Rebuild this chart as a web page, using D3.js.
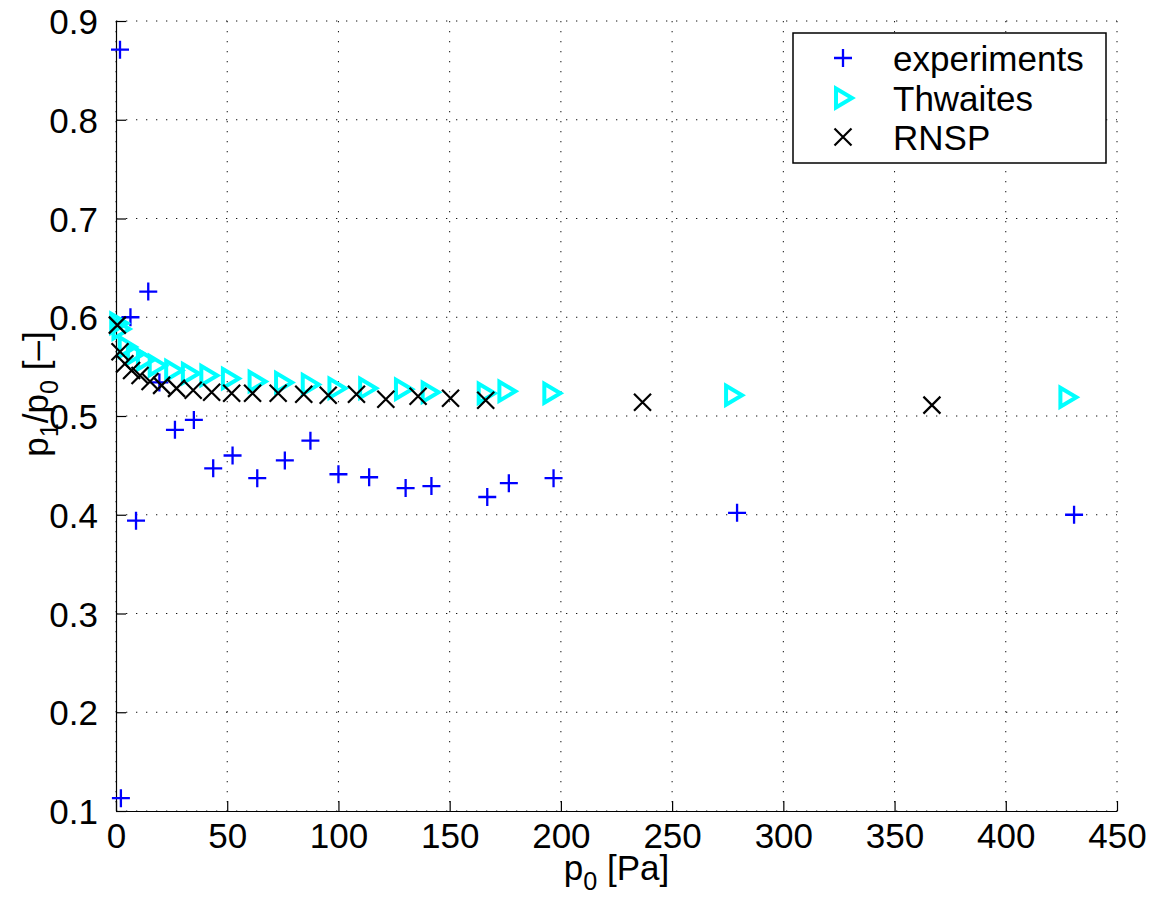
<!DOCTYPE html>
<html>
<head>
<meta charset="utf-8">
<script src="https://cdn.jsdelivr.net/npm/d3@7/dist/d3.min.js"></script>
<style>
  html, body { margin: 0; padding: 0; background: #fff; }
  svg { display: block; font-family: "Liberation Sans", Arial, Helvetica, sans-serif; }
</style>
</head>
<body>
<svg id="chart" width="1154" height="909"></svg>
<script>
// Pressure ratio p1/p0 against upstream pressure p0
const xTicks = [0, 50, 100, 150, 200, 250, 300, 350, 400, 450];
const yTicks = [0.1, 0.2, 0.3, 0.4, 0.5, 0.6, 0.7, 0.8, 0.9];

const expX = [1.8, 2.2, 6.5, 9, 14.5, 19.5, 26.5, 35, 43.7, 52.4, 63.5, 75.9, 87.4, 100, 113.8, 130.2, 141.8, 166.9, 176.6, 196.7, 279.2, 430.7];
const expY = [0.871, 0.113, 0.600, 0.394, 0.626, 0.534, 0.486, 0.496, 0.447, 0.460, 0.437, 0.455, 0.475, 0.441, 0.438, 0.427, 0.429, 0.418, 0.432, 0.437, 0.402, 0.400];

const thwX = [1, 2, 4.8, 8.5, 13, 18.3, 25.7, 33.2, 41.5, 51.2, 63.2, 75.1, 87.1, 99.1, 112.9, 129, 141, 166.2, 175.5, 195.7, 277.4, 427.7];
const thwY = [0.594, 0.588, 0.570, 0.563, 0.557, 0.551, 0.546, 0.543, 0.541, 0.538, 0.535, 0.534, 0.532, 0.528, 0.528, 0.527, 0.524, 0.523, 0.525, 0.523, 0.521, 0.519];

const rnspX = [0.6, 1.8, 4, 7, 10.8, 15.3, 20.5, 27.2, 34.7, 43, 52, 61.4, 72.9, 84.4, 95.4, 108.1, 121.3, 135.8, 150.4, 166.2, 236.7, 366.8];
const rnspY = [0.592, 0.565, 0.553, 0.546, 0.541, 0.535, 0.531, 0.528, 0.526, 0.524, 0.523, 0.523, 0.523, 0.522, 0.521, 0.522, 0.517, 0.520, 0.518, 0.516, 0.514, 0.511];

const seriesNames = ["experiments", "Thwaites", "RNSP"];

const svg = d3.select("#chart");
const plotLeft = 116, plotRight = 1117, plotTop = 21, plotBottom = 811;
const FS = 35;

const x = d3.scaleLinear().domain([0, 450]).range([plotLeft, plotRight]);
const y = d3.scaleLinear().domain([0.1, 0.9]).range([plotBottom, plotTop]);

// dotted grid
const grid = svg.append("g");
grid.selectAll("line.gx").data(xTicks).join("line")
  .attr("x1", d => x(d)).attr("x2", d => x(d))
  .attr("y1", plotTop).attr("y2", plotBottom)
  .attr("stroke", "#111").attr("stroke-width", 1)
  .attr("stroke-dasharray", "1.3,8.7");
grid.selectAll("line.gy").data(yTicks).join("line")
  .attr("x1", plotLeft).attr("x2", plotRight)
  .attr("y1", d => y(d)).attr("y2", d => y(d))
  .attr("stroke", "#111").attr("stroke-width", 1)
  .attr("stroke-dasharray", "1.3,8.7");

// axes (ticks point inward)
const xAxis = d3.axisBottom(x).tickValues(xTicks).tickSizeInner(-10).tickSizeOuter(0).tickPadding(12)
  .tickFormat(d3.format("d"));
const yAxis = d3.axisLeft(y).tickValues(yTicks).tickSizeInner(-10).tickSizeOuter(0).tickPadding(18)
  .tickFormat(d3.format(".1f"));

const gx = svg.append("g").attr("transform", `translate(0,${plotBottom})`).call(xAxis);
const gy = svg.append("g").attr("transform", `translate(${plotLeft},0)`).call(yAxis);
[gx, gy].forEach(g => {
  g.select(".domain").attr("stroke", "#000").attr("stroke-width", 1.2);
  g.selectAll(".tick line").attr("stroke", "#000").attr("stroke-width", 1.2);
  g.selectAll(".tick text").attr("fill", "#000").attr("font-size", FS)
    .attr("font-family", "'Liberation Sans', Arial, sans-serif");
});
gy.selectAll(".tick text").attr("dy", "0.36em");

// marker shapes
const plusPath = "M-9,0H9M0,-9V9";
const crossPath = "M-8.5,-8.5L8.5,8.5M-8.5,8.5L8.5,-8.5";
const triPath = "M-7,-9.5L-7,9.5L9,0Z";

const marks = svg.append("g");
marks.selectAll("path.exp").data(expX.map((v, i) => [v, expY[i]])).join("path")
  .attr("transform", d => `translate(${x(d[0])},${y(d[1])})`)
  .attr("d", plusPath).attr("fill", "none").attr("stroke", "#0000ff").attr("stroke-width", 2.3);
marks.selectAll("path.thw").data(thwX.map((v, i) => [v, thwY[i]])).join("path")
  .attr("transform", d => `translate(${x(d[0])},${y(d[1])})`)
  .attr("d", triPath).attr("fill", "none").attr("stroke", "#00ffff").attr("stroke-width", 4)
  .attr("stroke-linejoin", "miter");
marks.selectAll("path.rnsp").data(rnspX.map((v, i) => [v, rnspY[i]])).join("path")
  .attr("transform", d => `translate(${x(d[0])},${y(d[1])})`)
  .attr("d", crossPath).attr("fill", "none").attr("stroke", "#000").attr("stroke-width", 2.2);

// axis labels with subscripts
const xl = svg.append("text").attr("x", (plotLeft + plotRight) / 2).attr("y", 880)
  .attr("text-anchor", "middle").attr("font-size", FS).attr("fill", "#000");
xl.append("tspan").text("p");
xl.append("tspan").attr("font-size", FS * 0.72).attr("dy", 10).text("0");
xl.append("tspan").attr("dy", -10).text(" [Pa]");

const yl = svg.append("text").attr("transform", "translate(48,394) rotate(-90)")
  .attr("text-anchor", "middle").attr("font-size", FS).attr("fill", "#000");
yl.append("tspan").text("p");
yl.append("tspan").attr("font-size", FS * 0.72).attr("dy", 10).text("1");
yl.append("tspan").attr("dy", -10).text("/p");
yl.append("tspan").attr("font-size", FS * 0.72).attr("dy", 10).text("0");
yl.append("tspan").attr("dy", -10).text(" [\u2013]");

// legend
const lg = svg.append("g");
lg.append("rect").attr("x", 793).attr("y", 33).attr("width", 313).attr("height", 130)
  .attr("fill", "#fff").attr("stroke", "#000").attr("stroke-width", 1.5);
const rowY = [58, 98, 137];
const legendShapes = [
  { d: plusPath, stroke: "#0000ff", w: 2.3 },
  { d: triPath, stroke: "#00ffff", w: 4 },
  { d: crossPath, stroke: "#000", w: 2.2 }
];
seriesNames.forEach((name, i) => {
  lg.append("path").attr("transform", `translate(843,${rowY[i]})`)
    .attr("d", legendShapes[i].d).attr("fill", "none")
    .attr("stroke", legendShapes[i].stroke).attr("stroke-width", legendShapes[i].w);
  lg.append("text").attr("x", 893).attr("y", rowY[i]).attr("dy", "0.36em")
    .attr("font-size", FS).attr("fill", "#000").text(name);
});
</script>
</body>
</html>
